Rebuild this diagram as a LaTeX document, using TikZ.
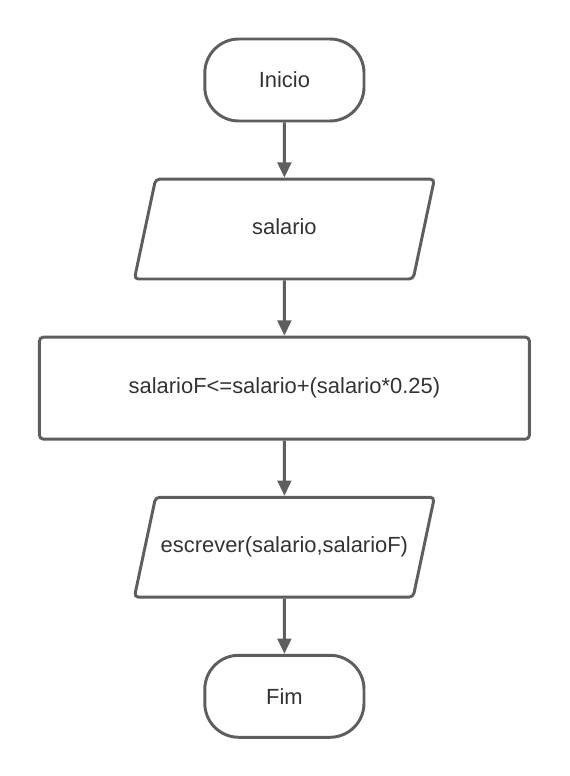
\documentclass[tikz,border=0pt]{standalone}
\usepackage{fontspec}
\setmainfont{Liberation Sans}
\usetikzlibrary{shapes.geometric,arrows.meta,positioning}
\definecolor{linegray}{HTML}{5E5E5E}
\definecolor{textgray}{HTML}{333333}

\begin{document}
\begin{tikzpicture}[
    node distance=1.38cm,
    every node/.style={font=\fontsize{15.6}{18}\selectfont, text=textgray},
    terminal/.style={rectangle, draw=linegray, line width=2.1pt, rounded corners=0.85cm, minimum width=3.98cm, minimum height=2.05cm},
    io/.style={trapezium, trapezium left angle=78, trapezium right angle=102, trapezium stretches body, draw=linegray, line width=2.1pt, rounded corners=0.1cm, text height=11pt, text depth=3pt, inner ysep=28.5pt, minimum width=7.5cm},
    process/.style={rectangle, draw=linegray, line width=2.1pt, rounded corners=0.1cm, minimum width=12.25cm, minimum height=2.55cm},
    arrow/.style={-{Triangle[length=0.38cm,width=0.34cm]}, draw=linegray, line width=2.1pt}
]
    \useasboundingbox (0,0) rectangle (14.225,-19.4);

    \node[terminal] (inicio) at (7.11,-2.0) {Inicio};
    \node[io, below=of inicio] (salario) {salario};
    \node[process, below=of salario] (calc) {salarioF<=salario+(salario*0.25)};
    \node[io, below=of calc] (escrever) {escrever(salario,salarioF)};
    \node[terminal, below=of escrever] (fim) {Fim};

    \draw[arrow] (inicio) -- (salario);
    \draw[arrow] (salario) -- (calc);
    \draw[arrow] (calc) -- (escrever);
    \draw[arrow] (escrever) -- (fim);
\end{tikzpicture}
\end{document}
